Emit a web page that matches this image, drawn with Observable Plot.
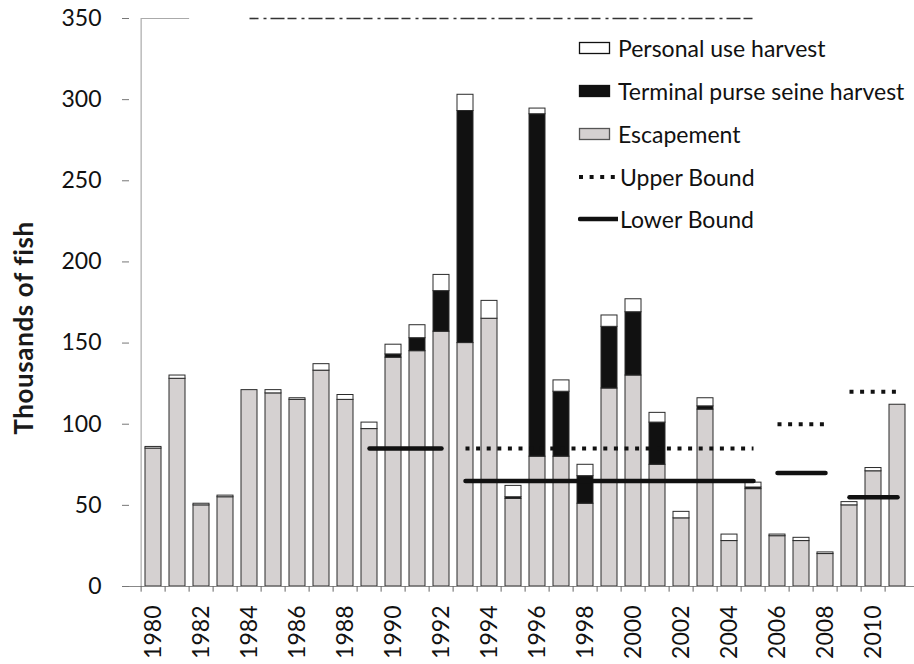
<!DOCTYPE html>
<html><head><meta charset="utf-8">
<script src="https://cdn.jsdelivr.net/npm/d3@7"></script>
<script src="https://cdn.jsdelivr.net/npm/@observablehq/plot@0.6"></script>
<style>
html,body{margin:0;padding:0;background:#fff;overflow:hidden;}
#wrap{position:relative;width:914px;height:664px;font-family:Lato,sans-serif;color:#111;}
#wrap svg{display:block;}
.ytitle{position:absolute;left:23px;top:328px;transform:translate(-50%,-50%) rotate(-90deg);white-space:nowrap;font-weight:700;font-size:26px;letter-spacing:0.6px;color:#1a1a1a;}
.lg{position:absolute;left:578px;white-space:nowrap;font-size:23px;line-height:24px;height:24px;display:flex;align-items:center;}
.lg svg{margin-right:6px;}
.lg svg.ln{margin-right:2px;}
</style></head><body><div id="wrap"></div>
<script>
const years = [1980,1981,1982,1983,1984,1985,1986,1987,1988,1989,1990,1991,1992,1993,1994,1995,1996,1997,1998,1999,2000,2001,2002,2003,2004,2005,2006,2007,2008,2009,2010,2011];
const escapement  = [85,128,50,55,121,119,115,133,115,97,141,145,157,150,165,54,80,80,51,122,130,75,42,109,28,60,31,28,20,50,71,112];
const purseSeine  = [0,0,0,0,0,0,0,0,0,0,2,8,25,143,0,1,211,40,17,38,39,26,0,2,0,1,0,0,0,0,0,0];
const personalUse = [1,2,1,1,0,2,1,4,3,4,6,8,10,10,11,7,3.5,7,7,7,8,6,4,5,4,3,1,2,1,2,2,0];
const seriesNames  = ["Escapement","Terminal purse seine harvest","Personal use harvest"];
const seriesColors = ["#d5d1d1","#111111","#ffffff"];
const lowerStart = [1989,1993,2006,2009];
const lowerEnd   = [1992,2005,2008,2011];
const lowerValue = [85,65,70,55];
const upperStart = [1993,2006,2009];
const upperEnd   = [2005,2008,2011];
const upperValue = [85,100,120];
const yTicks = [0,50,100,150,200,250,300,350];
const xTickYears = years.filter(y => y % 2 === 0);
const yTitle = "Thousands of fish";

const W = 914, H = 664, mL = 129, mR = -8, mT = 18, mB = 78;
const step = (W - mR - mL) / years.length;

const stacked = years.flatMap((yr, i) => [
  {year: yr, type: seriesNames[0], value: escapement[i]},
  {year: yr, type: seriesNames[1], value: purseSeine[i]},
  {year: yr, type: seriesNames[2], value: personalUse[i]}
]).filter(d => d.value > 0);
const lower = lowerStart.map((s, i) => ({x1: s, x2: lowerEnd[i], v: lowerValue[i]}));
const upper = upperStart.map((s, i) => ({x1: s, x2: upperEnd[i], v: upperValue[i]}));

const chart = Plot.plot({
  width: W, height: H,
  marginLeft: mL, marginRight: mR, marginTop: mT, marginBottom: mB,
  style: {fontFamily: "Lato, sans-serif", background: "transparent", color: "#111"},
  x: {type: "band", domain: years, paddingInner: 0.32, paddingOuter: 0.16},
  y: {domain: [0, 350]},
  color: {domain: seriesNames, range: seriesColors},
  marks: [
    Plot.barY(stacked, {x: "year", y: "value", fill: "type", stroke: "#2a2a2a", strokeWidth: 1}),
    Plot.ruleY([0], {stroke: "#888"}),
    Plot.ruleX([years[0]], {dx: -step / 2, y1: 0, y2: 350, stroke: "#999"}),
    Plot.link([{a: 1980, b: 1982}], {x1: "a", x2: "b", y1: 350, y2: 350, dx: -step / 2, stroke: "#aaa", strokeWidth: 1}),
    Plot.link([{a: 1984, b: 2005}], {x1: "a", x2: "b", y1: 350, y2: 350, stroke: "#333", strokeWidth: 1.6, strokeDasharray: "9 5 3 4 14 3"}),
    Plot.ruleX(years, {dx: -step / 2, y1: 0, y2: -3.5, stroke: "#666"}),
    Plot.link(lower, {x1: "x1", x2: "x2", y1: "v", y2: "v", stroke: "#111", strokeWidth: 4.5, strokeLinecap: "round"}),
    Plot.link(upper, {x1: "x1", x2: "x2", y1: "v", y2: "v", stroke: "#111", strokeWidth: 4, strokeDasharray: "4 6.6"}),
    Plot.axisY({ticks: yTicks, tickSize: 7, tickPadding: 21, fontSize: 23, label: null, stroke: "#777"}),
    Plot.axisX({ticks: xTickYears, tickFormat: d => String(d), tickRotate: -90, tickSize: 0, tickPadding: 19, fontSize: 23, label: null})
  ]
});
const wrap = document.getElementById("wrap");
wrap.appendChild(chart);

const t = document.createElement("div");
t.className = "ytitle"; t.textContent = yTitle; wrap.appendChild(t);

const legendItems = [
  {label: seriesNames[2], kind: "box", fill: seriesColors[2], stroke: "#111", cy: 48},
  {label: seriesNames[1], kind: "box", fill: seriesColors[1], stroke: "#111", cy: 91},
  {label: seriesNames[0], kind: "box", fill: seriesColors[0], stroke: "#555", cy: 134},
  {label: "Upper Bound", kind: "dot", cy: 177},
  {label: "Lower Bound", kind: "line", cy: 219}
];
for (const it of legendItems) {
  const d = document.createElement("div");
  d.className = "lg";
  d.style.top = (it.cy - 12) + "px";
  let sw;
  if (it.kind === "box") sw = `<svg width="34" height="14"><rect x="1.5" y="1.5" width="30" height="11" fill="${it.fill}" stroke="${it.stroke}" stroke-width="1.3"/></svg>`;
  else if (it.kind === "dot") sw = `<svg class="ln" width="40" height="14"><line x1="1" x2="40" y1="7" y2="7" stroke="#111" stroke-width="4" stroke-dasharray="4 6.6"/></svg>`;
  else sw = `<svg class="ln" width="40" height="14"><line x1="2" x2="40" y1="7" y2="7" stroke="#111" stroke-width="4.5" stroke-linecap="round"/></svg>`;
  d.innerHTML = sw + `<span>${it.label}</span>`;
  wrap.appendChild(d);
}
</script>
</body></html>
